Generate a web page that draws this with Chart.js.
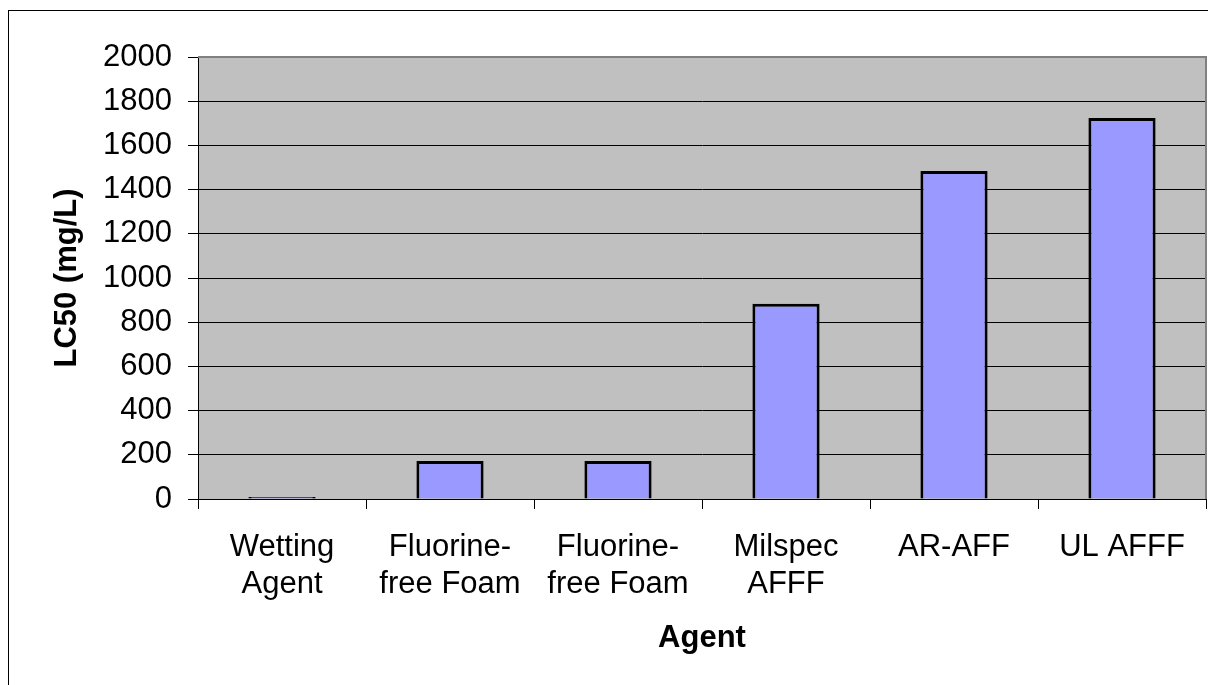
<!DOCTYPE html>
<html>
<head>
<meta charset="utf-8">
<script src="https://cdn.jsdelivr.net/npm/chart.js@4"></script>
<style>
  html, body { margin: 0; padding: 0; background: #fff; }
  #wrap { width: 1208px; height: 685px; position: relative; }
</style>
</head>
<body>
<div id="wrap"><canvas id="chartCanvas"></canvas></div>
<script>
const categories = [
    ["Wetting", "Agent"],
    ["Fluorine-", "free Foam"],
    ["Fluorine-", "free Foam"],
    ["Milspec", "AFFF"],
    ["AR-AFF"],
    ["UL AFFF"]
];
const lc50Values = [9, 172, 172, 884, 1484, 1724];
const yTickStep = 200;
const yMax = 2000;

const FONT = "'Liberation Sans', Arial, sans-serif";

// gray plot background, gray top/right frame, outer black frame
const frame = {
    id: "frame",
    beforeDraw(chart) {
        const { ctx, chartArea: a } = chart;
        ctx.save();
        ctx.fillStyle = "#fff";
        ctx.fillRect(0, 0, chart.width, chart.height);
        ctx.strokeStyle = "#000";
        ctx.lineWidth = 1;
        ctx.strokeRect(8.5, 10.5, 1400, 1000);
        ctx.fillStyle = "#C0C0C0";
        ctx.fillRect(a.left, a.top, a.right - a.left, a.bottom - a.top);
        ctx.restore();
    },
    afterDatasetsDraw(chart) {
        const { ctx, chartArea: a } = chart;
        ctx.save();
        ctx.strokeStyle = "#808080";
        ctx.lineWidth = 2;
        ctx.beginPath();
        ctx.moveTo(a.left, a.top);
        ctx.lineTo(a.right, a.top);
        ctx.lineTo(a.right, a.bottom);
        ctx.stroke();
        ctx.restore();
    }
};

new Chart(document.getElementById("chartCanvas"), {
    type: "bar",
    data: {
        labels: categories,
        datasets: [{
            data: lc50Values,
            backgroundColor: "#9999FF",
            borderColor: "#000",
            borderWidth: 3,
            categoryPercentage: 1,
            barPercentage: 0.4
        }]
    },
    options: {
        responsive: true,
        maintainAspectRatio: false,
        animation: false,
        layout: { padding: { left: 8, top: 57, right: 2, bottom: 0 } },
        plugins: { legend: { display: false }, tooltip: { enabled: false } },
        scales: {
            x: {
                afterFit(scale) { scale.height = 186; },
                grid: { drawOnChartArea: false, drawTicks: true, tickLength: 10, color: "#000", offset: true },
                border: { color: "#000", width: 1 },
                ticks: { color: "#000", font: { family: FONT, size: 31 }, padding: 20, maxRotation: 0, autoSkip: false },
                title: { display: true, text: "Agent", color: "#000", font: { family: FONT, size: 31, weight: "bold" }, padding: { top: 0, bottom: 28 } }
            },
            y: {
                min: 0,
                max: yMax,
                afterFit(scale) { scale.width = 190; },
                grid: { color: "#000", tickLength: 10 },
                border: { color: "#000", width: 1 },
                ticks: { stepSize: yTickStep, color: "#000", font: { family: FONT, size: 31 }, padding: 16, callback: v => String(v) },
                title: { display: true, text: "LC50 (mg/L)", color: "#000", font: { family: FONT, size: 31, weight: "bold" }, padding: { top: 41, bottom: 0 } }
            }
        }
    },
    plugins: [frame]
});
</script>
</body>
</html>
